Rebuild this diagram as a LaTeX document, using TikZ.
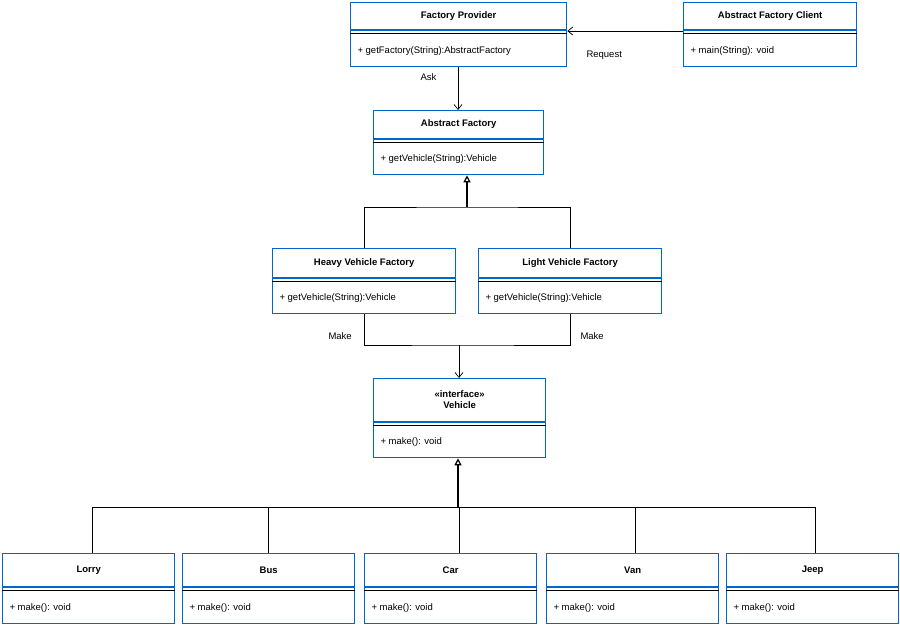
\documentclass[tikz,border=0pt]{standalone}
\usepackage{fontspec}
\setmainfont{Liberation Sans}
\usetikzlibrary{arrows.meta,calc}
\definecolor{umlblue}{RGB}{0,102,204}
\tikzset{
  umlbox/.style={draw=umlblue,line width=1.3pt,rectangle,anchor=north west,inner sep=0pt},
  title/.style={font=\fontsize{9.5}{11}\selectfont\bfseries},
  method/.style={font=\fontsize{9.5}{11}\selectfont,anchor=west},
  link/.style={draw,line width=0.7pt},
  assoc/.style={link,-{Straight Barb[length=5pt,width=8pt]}},
  inherit/.style={link,-{Triangle[open,length=7pt,width=7pt]}}
}
% \umlclass{name}{x}{y}{width}{height}{header height}{title}{method}
\newcommand{\umlclass}[8]{
  \node[umlbox,minimum width=#4pt,minimum height=#5pt] (#1) at (#2,#3) {};
  \draw[umlblue,line width=1.3pt] ($(#1.north west)+(0,#6)$) -- ($(#1.north east)+(0,#6)$);
  \draw[line width=0.6pt] ($(#1.north west)+(0,{#6+3})$) -- ($(#1.north east)+(0,{#6+3})$);
  \node[title,align=center] at ($(#1.north)+(0,{#6/2})$) {#7};
  \node[method] at ($(#1.south west)+(4,{-(#5-#6-3)/2})$) {#8};
}
\begin{document}
\begin{tikzpicture}[x=1pt,y=-1pt]
\useasboundingbox (0,0) rectangle (900,627);
\umlclass{provider}{350}{2}{216}{64}{28}{Factory Provider}{+ getFactory(String):AbstractFactory}
\umlclass{client}{683}{2}{173}{64}{28}{Abstract Factory Client}{+ main(String): void}
\umlclass{abstract}{373}{110}{170}{64}{29}{Abstract Factory}{+ getVehicle(String):Vehicle}
\umlclass{heavy}{272}{248}{183}{65}{30}{Heavy Vehicle Factory}{+ getVehicle(String):Vehicle}
\umlclass{light}{478}{248}{183}{65}{30}{Light Vehicle Factory}{+ getVehicle(String):Vehicle}
\umlclass{vehicle}{373}{378}{172}{79}{44}{«interface»\\Vehicle}{+ make(): void}
\umlclass{lorry}{2}{553}{172}{70}{34}{Lorry}{+ make(): void}
\umlclass{bus}{182}{553}{172}{70}{34}{Bus}{+ make(): void}
\umlclass{car}{364}{553}{172}{70}{34}{Car}{+ make(): void}
\umlclass{van}{546}{553}{172}{70}{34}{Van}{+ make(): void}
\umlclass{jeep}{726}{553}{172}{70}{34}{Jeep}{+ make(): void}
\coordinate (reqend) at ($(provider.north east)+(0,29)$);
\draw[assoc] (client.west |- reqend) -- (reqend);
\node[method] at (583,55) {Request};
\coordinate (askx) at (458,0);
\draw[assoc] (provider.south -| askx) -- (abstract.north -| askx);
\node[method] at (417,77) {Ask};
% factories realise abstract factory
\coordinate (fjoin) at (467,207);
\draw[link] (heavy.north) |- (fjoin) -| (light.north);
\draw[inherit,line width=1.2pt] (fjoin) -- (abstract.south -| fjoin);
% factories make vehicles
\coordinate (mjoin) at (459,345);
\draw[link] (heavy.south) |- (mjoin) -| (light.south);
\draw[assoc] (mjoin) -- (vehicle.north -| mjoin);
\node[method] at (325,336) {Make};
\node[method] at (577,336) {Make};
% vehicles implement interface
\coordinate (vjoin) at (458,507);
\draw[link] (92,507) -- (815,507);
\foreach \v/\px in {lorry/92,bus/268,car/459,van/635,jeep/815}{
  \coordinate (drop) at (\px,507);
  \draw[link] (drop) -- (\v.north -| drop);
}
\draw[inherit,line width=1.2pt] (vjoin) -- (vehicle.south -| vjoin);
\end{tikzpicture}
\end{document}
